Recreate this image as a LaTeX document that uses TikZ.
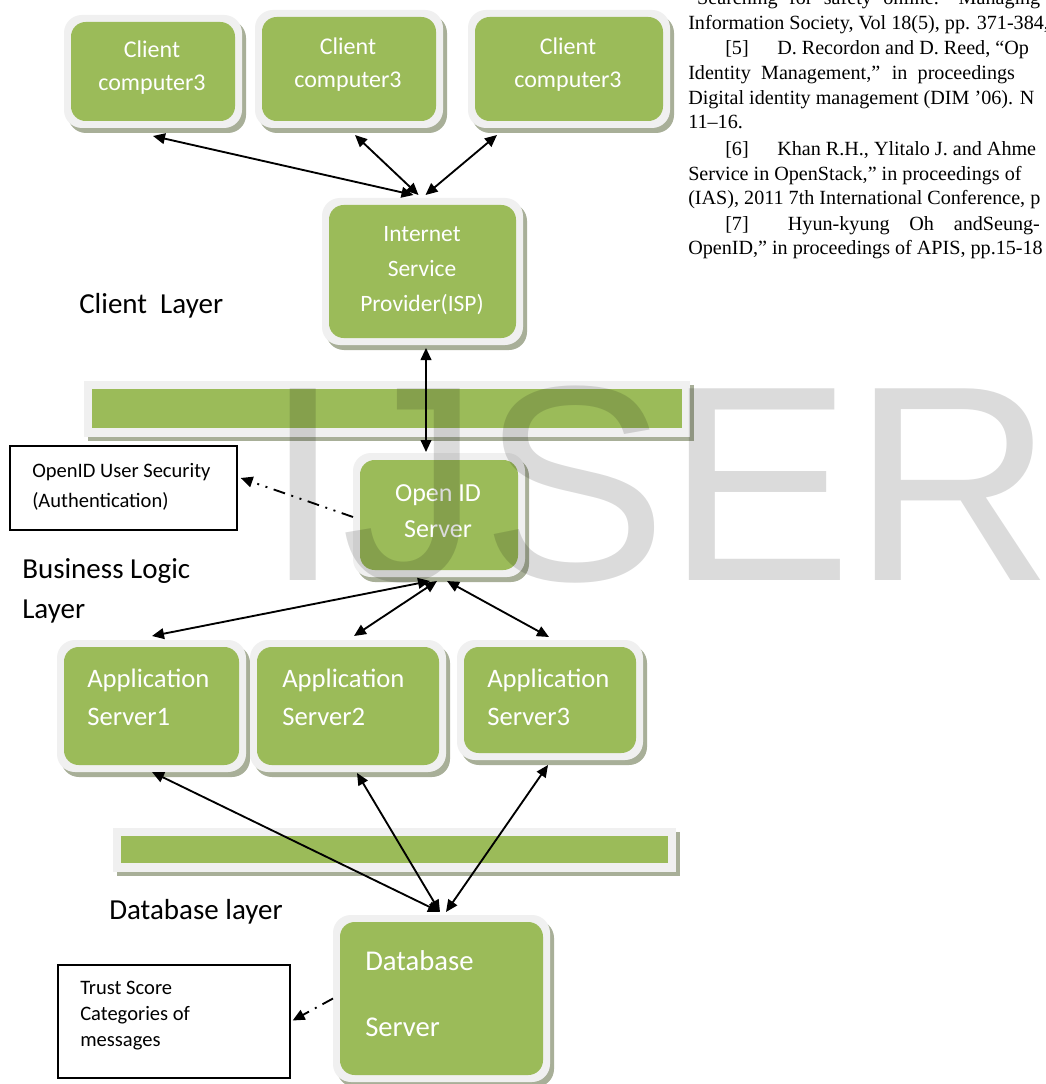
\documentclass[tikz,border=0pt]{standalone}
\usepackage{fontspec}
\setmainfont{Carlito}
\newfontfamily\wmfont{Liberation Sans}
\newfontfamily\reffont{Liberation Serif}
\usetikzlibrary{arrows.meta,fit,calc}
\definecolor{gboxc}{RGB}{155,187,89}
\definecolor{lboxc}{RGB}{240,240,240}
\definecolor{shadc}{RGB}{168,175,152}
\tikzset{
  conn/.style={line width=1.4pt, {Triangle[length=9pt,width=8pt]}-{Triangle[length=9pt,width=8pt]}},
  dashdotdot/.style={line width=1.4pt, dash pattern=on 9pt off 5pt on 1.5pt off 5pt on 1.5pt off 5pt, -{Triangle[length=9pt,width=8pt]}},
  dashdotarr/.style={line width=1.4pt, dash pattern=on 9pt off 5pt on 1.5pt off 5pt, -{Triangle[length=9pt,width=8pt]}},
  boxtext/.style={text=white, inner sep=0pt},
  layertext/.style={inner sep=0pt, anchor=west, align=left, font=\fontsize{21.75}{30}\selectfont},
  notebox/.style={draw, line width=1pt, inner sep=0pt},
  notetext/.style={inner sep=0pt, anchor=west, align=left},
  reftext/.style={inner sep=0pt, anchor=base west, font=\reffont\fontsize{15.1}{18}\selectfont},
}
\newcommand\gbox[5]{%
  \fill[shadc, rounded corners=13.5pt] ({#2+4},{#3+5}) rectangle ({#4+4},{#5+5});
  \node[fit={(#2,#3) (#4,#5)}, inner sep=0pt, outer sep=0pt, fill=lboxc, rounded corners=13.5pt] (#1) {};
  \fill[gboxc, rounded corners=11pt] ({#2+7},{#3+7}) rectangle ({#4-7},{#5-7});
}
\newcommand\lbar[5]{%
  \fill[shadc] ({#2+4},{#3+4}) rectangle ({#4+4},{#5+4});
  \node[fit={(#2,#3) (#4,#5)}, inner sep=0pt, outer sep=0pt, fill=lboxc] (#1) {};
  \fill[gboxc] ({#2+8},{#3+8}) rectangle ({#4-8},{#5-9});
}
\begin{document}
\begin{tikzpicture}[x=0.75pt,y=-0.75pt]
\useasboundingbox (0,0) rectangle (1045,1084);
\fill[white] (0,0) rectangle (1045,1084);

% reference text (top right)
\node[reftext] (r0) at (688,5) {\makebox[264pt][s]{“Searching for safety online: Managing}};
\node[reftext] (r1) at (688,30) {Information Society, Vol 18(5), pp. 371-384,};
\node[reftext] (r2) at (725,55) {\makebox[39pt][l]{[5]}D. Recordon and D. Reed, “Op};
\node[reftext] (r3) at (688,80) {\makebox[245pt][s]{Identity Management,” in proceedings}};
\node[reftext] (r4) at (688,104.5) {Digital identity management (DIM ’06). N};
\node[reftext] (r5) at (688,129) {11–16.};
\node[reftext] (r6) at (725,156) {\makebox[39pt][l]{[6]}Khan R.H., Ylitalo J. and Ahme};
\node[reftext] (r7) at (688,181) {Service in OpenStack,” in proceedings of};
\node[reftext] (r8) at (688,205) {(IAS), 2011 7th International Conference, p};
\node[reftext] (r9) at (725,230) {\makebox[47pt][l]{[7]}\makebox[189pt][s]{Hyun-kyung Oh andSeung-}};
\node[reftext] (r10) at (688,254) {OpenID,” in proceedings of APIS, pp.15-18};

% layer bars
\lbar{bar1}{84}{381}{690}{437}
\lbar{bar2}{113}{828}{676}{872}

% boxes
\gbox{c1}{64}{15}{242}{128}
\gbox{c2}{255}{10}{443}{128}
\gbox{c3}{468}{10}{670}{128}
\gbox{isp}{322}{198}{523}{345}
\gbox{oid}{353}{453}{525}{577}
\gbox{a1}{57}{640}{246}{772}
\gbox{a2}{250}{640}{446}{772}
\gbox{a3}{457}{640}{643}{760}
\gbox{db}{333}{915}{550}{1082}

% box texts
\node[boxtext, align=center, font=\fontsize{18}{24.75}\selectfont] (c1t) at (152,67.5) {Client\\computer3};
\node[boxtext, align=center, font=\fontsize{18}{24.75}\selectfont] (c2t) at (348,64.5) {Client\\computer3};
\node[boxtext, align=center, font=\fontsize{18}{24.75}\selectfont] (c3t) at (568,64.5) {Client\\computer3};
\node[boxtext, align=center, font=\fontsize{17.6}{26.25}\selectfont] (ispt) at (422,271) {Internet\\Service\\Provider(ISP)};
\node[boxtext, align=center, font=\fontsize{19.5}{27}\selectfont] (oidt) at (438,511) {Open ID\\Server};
\node[boxtext, anchor=west, align=left, font=\fontsize{20}{28.5}\selectfont] (a1t) at (87,697) {Application\\Server1};
\node[boxtext, anchor=west, align=left, font=\fontsize{20}{28.5}\selectfont] (a2t) at (282,697) {Application\\Server2};
\node[boxtext, anchor=west, align=left, font=\fontsize{20}{28.5}\selectfont] (a3t) at (487,697) {Application\\Server3};
\node[boxtext, anchor=west, align=left, font=\fontsize{21.5}{50}\selectfont] (dbt) at (365,993.5) {Database\\Server};

% layer labels
\node[layertext] (l1) at (79,306) {Client~ Layer};
\node[layertext] (l2) at (22,591) {Business Logic\\Layer};
\node[layertext] (l3) at (109,912) {Database layer};

% note boxes
\node[notebox, fit={(10,446) (237,530)}] (auth) {};
\node[notetext, font=\fontsize{15.4}{22.5}\selectfont] (autht) at (32,487) {OpenID User Security\\(Authentication)};
\node[notebox, fit={(58,965) (290,1078)}] (trust) {};
\node[notetext, font=\fontsize{15.4}{19.5}\selectfont] (trustt) at (80,1016) {Trust Score\\Categories of\\messages};

% connectors
\draw[conn] ($(c1.south)+(0,8)$) -- ($(isp.north)+(-9,-3)$);
\draw[conn] ($(c2.south)+(6,7)$) -- ($(isp.north)+(-4,-3)$);
\draw[conn] ($(c3.south)+(-72,7)$) -- ($(isp.north)+(3,-3)$);
\draw[conn] ($(isp.south)+(3.5,3)$) -- ($(oid.north)+(-13,-1)$);
\draw[conn] ($(oid.south)+(-9,4)$) -- ($(a1.north)+(0.5,-4)$);
\draw[conn] ($(oid.south)+(-2,4)$) -- ($(a2.north)+(6,-4)$);
\draw[conn] ($(oid.south)+(8,4)$) -- ($(a3.north)+(-1,-3)$);
\draw[conn] ($(a1.south)+(0.5,0)$) -- ($(db.north)+(-1.5,-3)$);
\draw[conn] ($(a2.south)+(9,1)$) -- ($(db.north)+(-1.5,-3)$);
\draw[conn] ($(a3.south)+(-2,5)$) -- ($(db.north)+(4.5,-3)$);
\draw[dashdotdot] ($(oid.west)+(0,2)$) -- ($(auth.east)+(3,-10)$);
\draw[dashdotarr] ($(db.west)+(0,0)$) -- ($(trust.east)+(2,-1)$);

% watermark
\node[anchor=base west, inner sep=0pt, font=\wmfont\fontsize{209}{209}\selectfont, text=black, text opacity=0.14] (wm) at (264,580) {IJSER};
\end{tikzpicture}
\end{document}
